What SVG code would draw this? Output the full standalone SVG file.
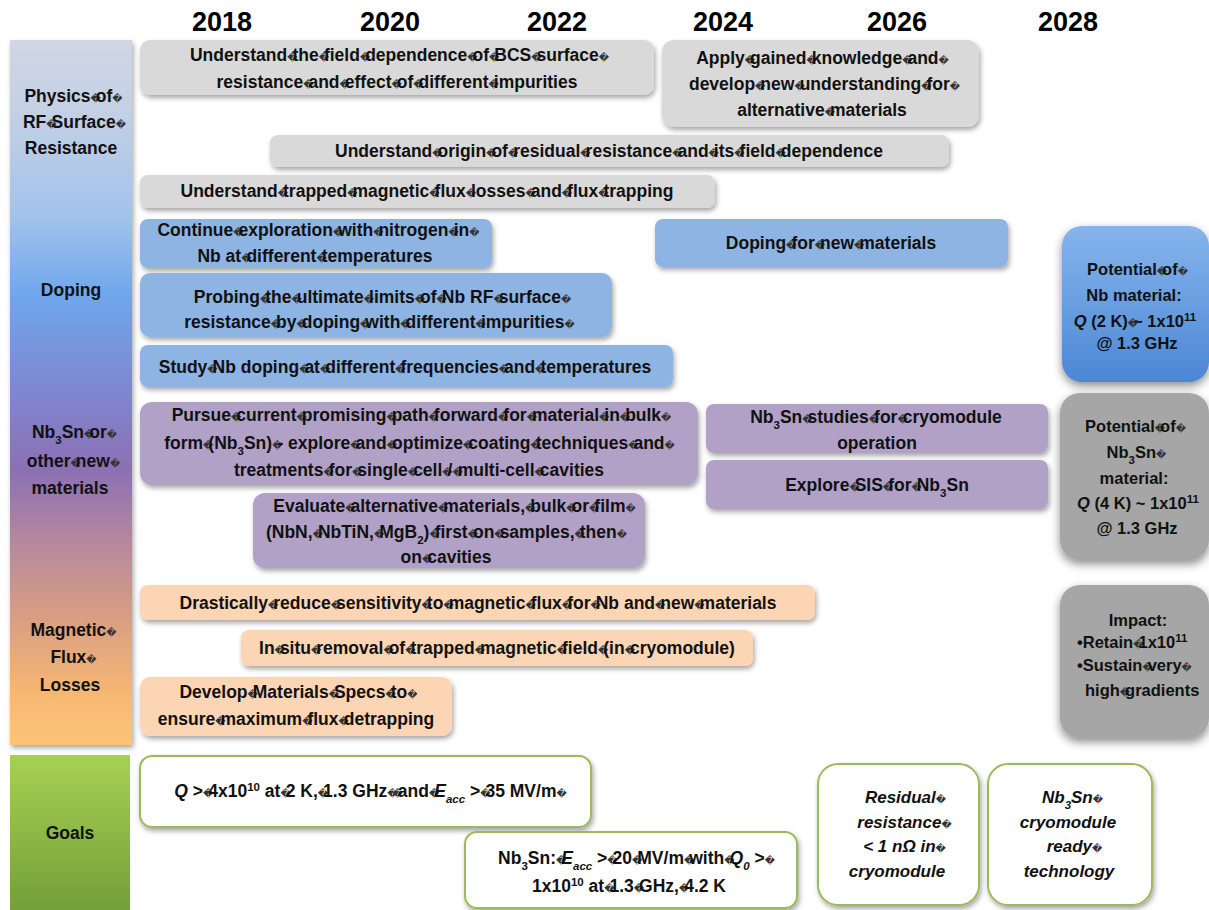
<svg xmlns="http://www.w3.org/2000/svg" width="1209" height="910" viewBox="0 0 1209 910">
<defs>
<style>
.b{font-family:"Liberation Sans",Arial,sans-serif;font-weight:700;font-size:17.5px;text-anchor:middle;fill:#111}
.s{font-size:16.5px}
.g{font-size:17px;font-style:italic}
.yr{font-family:"Liberation Sans",Arial,sans-serif;font-weight:700;font-size:27px;text-anchor:middle;fill:#000}
.it{font-style:italic}
.sup{font-size:11.5px;baseline-shift:super}
.sub{font-size:11.5px;baseline-shift:sub}
.q{font-family:"DejaVu Sans",sans-serif;font-weight:400;font-style:normal;font-size:10px;letter-spacing:-5px;fill:#333}
.gray{fill:#d9d9d9}
.blue{fill:#8eb4e3}
.purp{fill:#b2a1c7}
.org{fill:#fcd5b5}
.goal{fill:#fff;stroke:#9bbb59;stroke-width:2}
.st{text-anchor:start}
</style>
<filter id="sh" x="-10%" y="-20%" width="125%" height="150%"><feDropShadow dx="1.5" dy="3" stdDeviation="2.5" flood-color="#000" flood-opacity="0.35"/></filter>
<filter id="sh2" x="-20%" y="-20%" width="140%" height="140%"><feDropShadow dx="0" dy="4" stdDeviation="5" flood-color="#000" flood-opacity="0.45"/></filter>
<linearGradient id="side" x1="0" y1="0" x2="0" y2="1">
<stop offset="0" stop-color="#cfd7e3"/>
<stop offset="0.1" stop-color="#c4d0e4"/>
<stop offset="0.25" stop-color="#a3c3ec"/>
<stop offset="0.36" stop-color="#6fa7ec"/>
<stop offset="0.5" stop-color="#7f86d0"/>
<stop offset="0.61" stop-color="#8c70b4"/>
<stop offset="0.72" stop-color="#b98a9c"/>
<stop offset="0.82" stop-color="#d99e82"/>
<stop offset="0.93" stop-color="#f7b873"/>
<stop offset="1" stop-color="#fcc574"/>
</linearGradient>
<linearGradient id="goalg" x1="0" y1="0" x2="0" y2="1">
<stop offset="0" stop-color="#a6d152"/>
<stop offset="1" stop-color="#73a039"/>
</linearGradient>
<linearGradient id="r1g" x1="0" y1="0" x2="0" y2="1">
<stop offset="0" stop-color="#86b5ec"/>
<stop offset="1" stop-color="#4c87d5"/>
</linearGradient>
</defs>
<rect width="1209" height="910" fill="#fff"/>

<g id="years">
<text class="yr" x="222" y="31">2018</text>
<text class="yr" x="390" y="31">2020</text>
<text class="yr" x="557" y="31">2022</text>
<text class="yr" x="723" y="31">2024</text>
<text class="yr" x="897" y="31">2026</text>
<text class="yr" x="1068" y="31">2028</text>
</g>

<g id="sidebar">
<rect x="10" y="40" width="122" height="705" fill="url(#side)" filter="url(#sh)"/>
<rect x="10" y="755" width="120" height="155" fill="url(#goalg)"/>
</g>
<g id="lane-physics">
<text class="b" x="71" y="102">Physics<tspan class="q">�</tspan>of<tspan class="q">�</tspan></text>
<text class="b" x="72" y="128">RF<tspan class="q">�</tspan>Surface<tspan class="q">�</tspan></text>
<text class="b" x="71" y="154">Resistance</text>
</g>
<g id="lane-doping">
<text class="b" x="71" y="296">Doping</text>
</g>
<g id="lane-nb3sn">
<text class="b" x="72" y="438">Nb<tspan class="sub">3</tspan>Sn<tspan class="q">�</tspan>or<tspan class="q">�</tspan></text>
<text class="b" x="71" y="467">other<tspan class="q">�</tspan>new<tspan class="q">�</tspan></text>
<text class="b" x="70" y="494">materials</text>
</g>
<g id="lane-flux">
<text class="b" x="71" y="636">Magnetic<tspan class="q">�</tspan></text>
<text class="b" x="71" y="663">Flux<tspan class="q">�</tspan></text>
<text class="b" x="70" y="691">Losses</text>
</g>
<g id="lane-goals">
<text class="b" x="70" y="839">Goals</text>
</g>

<g id="bcs">
<rect class="gray" x="140" y="40" width="514" height="55" rx="10" filter="url(#sh)"/>
<text class="b" x="397" y="61">Understand<tspan class="q">�</tspan>the<tspan class="q">�</tspan>field<tspan class="q">�</tspan>dependence<tspan class="q">�</tspan>of<tspan class="q">�</tspan>BCS<tspan class="q">�</tspan>surface<tspan class="q">�</tspan></text>
<text class="b" x="397" y="88">resistance<tspan class="q">�</tspan>and<tspan class="q">�</tspan>effect<tspan class="q">�</tspan>of<tspan class="q">�</tspan>different<tspan class="q">�</tspan>impurities</text>
</g>
<g id="apply">
<rect class="gray" x="662" y="40" width="317" height="87" rx="12" filter="url(#sh)"/>
<text class="b" x="820" y="64">Apply<tspan class="q">�</tspan>gained<tspan class="q">�</tspan>knowledge<tspan class="q">�</tspan>and<tspan class="q">�</tspan></text>
<text class="b" x="822" y="90">develop<tspan class="q">�</tspan>new<tspan class="q">�</tspan>understanding<tspan class="q">�</tspan>for<tspan class="q">�</tspan></text>
<text class="b" x="822" y="116">alternative<tspan class="q">�</tspan>materials</text>
</g>
<g id="residual">
<rect class="gray" x="270" y="135" width="679" height="32" rx="8" filter="url(#sh)"/>
<text class="b" x="609" y="157">Understand<tspan class="q">�</tspan>origin<tspan class="q">�</tspan>of<tspan class="q">�</tspan>residual<tspan class="q">�</tspan>resistance<tspan class="q">�</tspan>and<tspan class="q">�</tspan>its<tspan class="q">�</tspan>field<tspan class="q">�</tspan>dependence</text>
</g>
<g id="trapped">
<rect class="gray" x="140" y="175" width="575" height="33" rx="8" filter="url(#sh)"/>
<text class="b" x="427" y="197">Understand<tspan class="q">�</tspan>trapped<tspan class="q">�</tspan>magnetic<tspan class="q">�</tspan>flux<tspan class="q">�</tspan>losses<tspan class="q">�</tspan>and<tspan class="q">�</tspan>flux<tspan class="q">�</tspan>trapping</text>
</g>

<g id="nitrogen">
<rect class="blue" x="140" y="219" width="352" height="49" rx="8" filter="url(#sh)"/>
<text class="b" x="316" y="236">Continue<tspan class="q">�</tspan>exploration<tspan class="q">�</tspan>with<tspan class="q">�</tspan>nitrogen<tspan class="q">�</tspan>in<tspan class="q">�</tspan></text>
<text class="b" x="315" y="262">Nb at<tspan class="q">�</tspan>different<tspan class="q">�</tspan>temperatures</text>
</g>
<g id="doping-new">
<rect class="blue" x="655" y="219" width="353" height="48" rx="8" filter="url(#sh)"/>
<text class="b" x="831" y="249">Doping<tspan class="q">�</tspan>for<tspan class="q">�</tspan>new<tspan class="q">�</tspan>materials</text>
</g>
<g id="probing">
<rect class="blue" x="140" y="273" width="472" height="64" rx="10" filter="url(#sh)"/>
<text class="b" x="380" y="303">Probing<tspan class="q">�</tspan>the<tspan class="q">�</tspan>ultimate<tspan class="q">�</tspan>limits<tspan class="q">�</tspan>of<tspan class="q">�</tspan>Nb RF<tspan class="q">�</tspan>surface<tspan class="q">�</tspan></text>
<text class="b" x="377" y="328">resistance<tspan class="q">�</tspan>by<tspan class="q">�</tspan>doping<tspan class="q">�</tspan>with<tspan class="q">�</tspan>different<tspan class="q">�</tspan>impurities<tspan class="q">�</tspan></text>
</g>
<g id="study">
<rect class="blue" x="140" y="345" width="533" height="42" rx="8" filter="url(#sh)"/>
<text class="b" x="405" y="373">Study<tspan class="q">�</tspan>Nb doping<tspan class="q">�</tspan>at<tspan class="q">�</tspan>different<tspan class="q">�</tspan>frequencies<tspan class="q">�</tspan>and<tspan class="q">�</tspan>temperatures</text>
</g>

<g id="pursue">
<rect class="purp" x="140" y="402" width="558" height="83" rx="12" filter="url(#sh)"/>
<text class="b" x="419" y="421">Pursue<tspan class="q">�</tspan>current<tspan class="q">�</tspan>promising<tspan class="q">�</tspan>path<tspan class="q">�</tspan>forward<tspan class="q">�</tspan>for<tspan class="q">�</tspan>material<tspan class="q">�</tspan>in<tspan class="q">�</tspan>bulk<tspan class="q">�</tspan></text>
<text class="b" x="417" y="449">form<tspan class="q">�</tspan>(Nb<tspan class="sub">3</tspan>Sn)<tspan class="q">�</tspan>- explore<tspan class="q">�</tspan>and<tspan class="q">�</tspan>optimize<tspan class="q">�</tspan>coating<tspan class="q">�</tspan>techniques<tspan class="q">�</tspan>and<tspan class="q">�</tspan></text>
<text class="b" x="419" y="476">treatments<tspan class="q">�</tspan>for<tspan class="q">�</tspan>single<tspan class="q">�</tspan>cell<tspan class="q">�</tspan>/<tspan class="q">�</tspan>multi-cell<tspan class="q">�</tspan>cavities</text>
</g>
<g id="cryo-studies">
<rect class="purp" x="706" y="404" width="342" height="49" rx="8" filter="url(#sh)"/>
<text class="b" x="876" y="423">Nb<tspan class="sub">3</tspan>Sn<tspan class="q">�</tspan>studies<tspan class="q">�</tspan>for<tspan class="q">�</tspan>cryomodule</text>
<text class="b" x="877" y="449">operation</text>
</g>
<g id="sis">
<rect class="purp" x="706" y="460" width="342" height="49" rx="8" filter="url(#sh)"/>
<text class="b" x="877" y="491">Explore<tspan class="q">�</tspan>SIS<tspan class="q">�</tspan>for<tspan class="q">�</tspan>Nb<tspan class="sub">3</tspan>Sn</text>
</g>
<g id="evaluate">
<rect class="purp" x="253" y="493" width="392" height="75" rx="12" filter="url(#sh)"/>
<text class="b" x="452" y="512">Evaluate<tspan class="q">�</tspan>alternative<tspan class="q">�</tspan>materials,<tspan class="q">�</tspan>bulk<tspan class="q">�</tspan>or<tspan class="q">�</tspan>film<tspan class="q">�</tspan></text>
<text class="b" x="444" y="538">(NbN,<tspan class="q">�</tspan>NbTiN,<tspan class="q">�</tspan>MgB<tspan class="sub">2</tspan>)<tspan class="q">�</tspan>first<tspan class="q">�</tspan>on<tspan class="q">�</tspan>samples,<tspan class="q">�</tspan>then<tspan class="q">�</tspan></text>
<text class="b" x="446" y="563">on<tspan class="q">�</tspan>cavities</text>
</g>

<g id="pot-nb">
<rect x="1062" y="226" width="147" height="156" rx="20" fill="url(#r1g)" filter="url(#sh2)"/>
<text class="b s" x="1135" y="275">Potential<tspan class="q">�</tspan>of<tspan class="q">�</tspan></text>
<text class="b s" x="1134" y="301">Nb material:</text>
<text class="b s" x="1135" y="327"><tspan class="it">Q</tspan> (2 K)<tspan class="q">�</tspan>~ 1x10<tspan class="sup">11</tspan></text>
<text class="b s" x="1137" y="349">@ 1.3 GHz</text>
</g>
<g id="pot-nb3sn">
<rect x="1060" y="393" width="149" height="167" rx="20" fill="#a6a6a6" filter="url(#sh2)"/>
<text class="b s" x="1133" y="432">Potential<tspan class="q">�</tspan>of<tspan class="q">�</tspan></text>
<text class="b s" x="1134" y="458">Nb<tspan class="sub">3</tspan>Sn<tspan class="q">�</tspan></text>
<text class="b s" x="1134" y="484">material:</text>
<text class="b s" x="1138" y="509"><tspan class="it">Q</tspan> (4 K) ~ 1x10<tspan class="sup">11</tspan></text>
<text class="b s" x="1137" y="534">@ 1.3 GHz</text>
</g>
<g id="impact">
<rect x="1060" y="585" width="149" height="153" rx="20" fill="#a6a6a6" filter="url(#sh2)"/>
<text class="b s" x="1138" y="626">Impact:</text>
<text class="b s st" x="1077" y="648">•Retain<tspan class="q">�</tspan>1x10<tspan class="sup">11</tspan></text>
<text class="b s st" x="1077" y="671">•Sustain<tspan class="q">�</tspan>very<tspan class="q">�</tspan></text>
<text class="b s st" x="1085" y="696">high<tspan class="q">�</tspan>gradients</text>
</g>

<g id="reduce">
<rect class="org" x="140" y="585" width="675" height="35" rx="8" filter="url(#sh)"/>
<text class="b" x="478" y="609">Drastically<tspan class="q">�</tspan>reduce<tspan class="q">�</tspan>sensitivity<tspan class="q">�</tspan>to<tspan class="q">�</tspan>magnetic<tspan class="q">�</tspan>flux<tspan class="q">�</tspan>for<tspan class="q">�</tspan>Nb and<tspan class="q">�</tspan>new<tspan class="q">�</tspan>materials</text>
</g>
<g id="insitu">
<rect class="org" x="241" y="630" width="512" height="36" rx="8" filter="url(#sh)"/>
<text class="b" x="497" y="654">In<tspan class="q">�</tspan>situ<tspan class="q">�</tspan>removal<tspan class="q">�</tspan>of<tspan class="q">�</tspan>trapped<tspan class="q">�</tspan>magnetic<tspan class="q">�</tspan>field<tspan class="q">�</tspan>(in<tspan class="q">�</tspan>cryomodule)</text>
</g>
<g id="specs">
<rect class="org" x="140" y="677" width="312" height="59" rx="10" filter="url(#sh)"/>
<text class="b" x="296" y="698">Develop<tspan class="q">�</tspan>Materials<tspan class="q">�</tspan>Specs<tspan class="q">�</tspan>to<tspan class="q">�</tspan></text>
<text class="b" x="296" y="725">ensure<tspan class="q">�</tspan>maximum<tspan class="q">�</tspan>flux<tspan class="q">�</tspan>detrapping</text>
</g>

<g id="goal-q">
<rect class="goal" x="140" y="756" width="451" height="71" rx="12" filter="url(#sh)"/>
<text class="b" x="368" y="797"><tspan class="it">Q</tspan> &gt;<tspan class="q">�</tspan>4x10<tspan class="sup">10</tspan> at<tspan class="q">�</tspan>2 K,<tspan class="q">�</tspan>1.3 GHz<tspan class="q">�</tspan><tspan class="q">�</tspan>and<tspan class="q">�</tspan><tspan class="it">E<tspan class="sub">acc</tspan></tspan> &gt;<tspan class="q">�</tspan>35 MV/m<tspan class="q">�</tspan></text>
</g>
<g id="goal-nb3sn">
<rect class="goal" x="465" y="832" width="332" height="76" rx="12" filter="url(#sh)"/>
<text class="b" x="634" y="864">Nb<tspan class="sub">3</tspan>Sn:<tspan class="q">�</tspan><tspan class="it">E<tspan class="sub">acc</tspan></tspan> &gt;<tspan class="q">�</tspan>20<tspan class="q">�</tspan>MV/m<tspan class="q">�</tspan>with<tspan class="q">�</tspan><tspan class="it">Q<tspan class="sub">0</tspan></tspan> &gt;<tspan class="q">�</tspan></text>
<text class="b" x="629" y="892">1x10<tspan class="sup">10</tspan> at<tspan class="q">�</tspan>1.3<tspan class="q">�</tspan>GHz,<tspan class="q">�</tspan>4.2 K</text>
</g>
<g id="goal-residual">
<rect class="goal" x="818" y="764" width="161" height="141" rx="20" filter="url(#sh)"/>
<text class="b g" x="903" y="803">Residual<tspan class="q">�</tspan></text>
<text class="b g" x="902" y="828">resistance<tspan class="q">�</tspan></text>
<text class="b g" x="902" y="852">&lt; 1 nΩ in<tspan class="q">�</tspan></text>
<text class="b g" x="897" y="877">cryomodule</text>
</g>
<g id="goal-tech">
<rect class="goal" x="988" y="764" width="164" height="141" rx="20" filter="url(#sh)"/>
<text class="b g" x="1070" y="803">Nb<tspan class="sub">3</tspan>Sn<tspan class="q">�</tspan></text>
<text class="b g" x="1068" y="828">cryomodule</text>
<text class="b g" x="1072" y="852">ready<tspan class="q">�</tspan></text>
<text class="b g" x="1069" y="877">technology</text>
</g>
</svg>
